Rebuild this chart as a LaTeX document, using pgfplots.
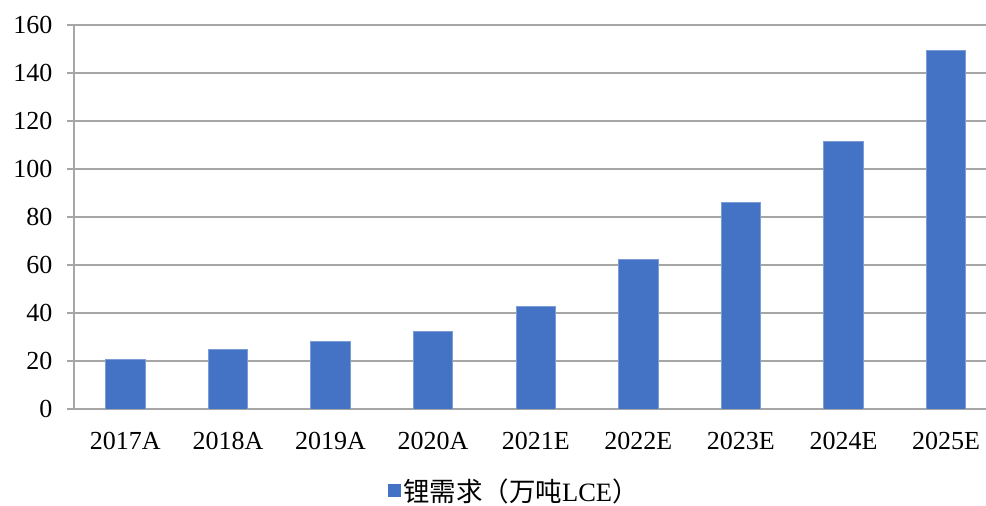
\documentclass[border=0pt]{standalone}
\usepackage{pgfplots}
\pgfplotsset{compat=1.18}
\usepackage{fontspec}
\setmainfont{Liberation Serif}
\newfontfamily\cjk{Noto Sans CJK SC}
\definecolor{barblue}{HTML}{4472C4}
\definecolor{gridgray}{HTML}{A6A6A6}
\begin{document}
\begin{tikzpicture}
\useasboundingbox (0pt,0pt) rectangle (986pt,506pt);
\begin{axis}[
  at={(74pt,97pt)}, anchor=south west,
  scale only axis, width=912pt, height=384pt,
  xmin=-0.5, xmax=8.389, ymin=0, ymax=160,
  axis x line=bottom, axis y line=left,
  axis line style={draw=gridgray, line width=1.3pt, -},
  ytick={0,20,...,160}, ymajorgrids,
  grid style={draw=gridgray, line width=1.3pt},
  xtick={0,...,8},
  xticklabels={2017A,2018A,2019A,2020A,2021E,2022E,2023E,2024E,2025E},
  xtick style={draw=none},
  minor xtick={-0.5,0.5,...,7.5},
  tick align=outside, major tick length=7pt, minor tick length=7pt,
  ytick style={draw=gridgray, line width=1.3pt},
  minor tick style={draw=gridgray, line width=1.3pt},
  ticklabel style={font=\fontsize{26}{30}\selectfont},
  xticklabel style={yshift=-13pt},
  yticklabel style={xshift=-11pt},
  /pgf/number format/assume math mode=true,
  ybar, bar width=39.3pt,
  legend style={at={(axis description cs:0.483,-0.212)}, anchor=center,
    draw=none, fill=none, font=\fontsize{26.5}{30}\selectfont},
  legend image code/.code={\fill[barblue] (0pt,-6pt) rectangle (12pt,6pt);},
]
\addplot[fill=barblue, draw=barblue!70!white, line width=0.8pt] coordinates {
  (0,20.8) (1,24.8) (2,28.3) (3,32.3) (4,42.9) (5,62.3) (6,86.2) (7,111.6) (8,149.5)
};
\addlegendentry{{\cjk 锂需求（万吨}LCE{\cjk ）}}
\end{axis}
\end{tikzpicture}
\end{document}
